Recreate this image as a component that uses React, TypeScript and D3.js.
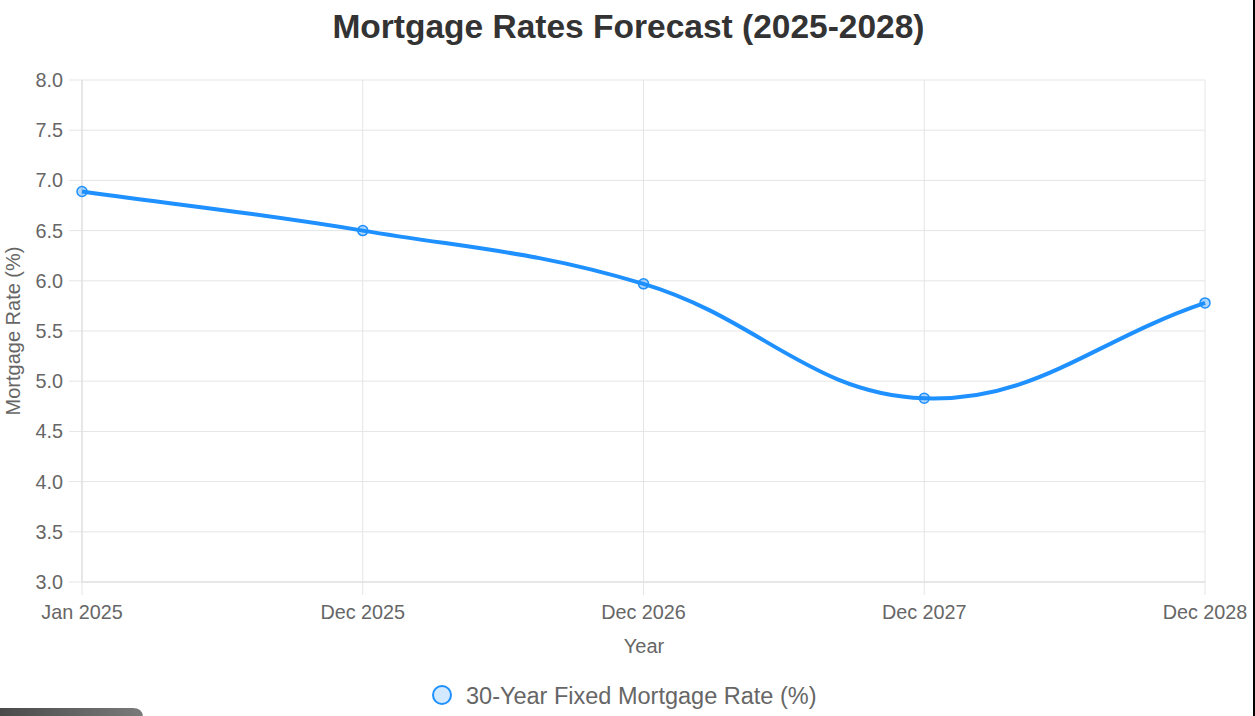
import React from "react";
import * as d3 from "d3";

const categories = ["Jan 2025", "Dec 2025", "Dec 2026", "Dec 2027", "Dec 2028"];
const rates = [6.89, 6.5, 5.97, 4.83, 5.78];
const yTicks = [3.0, 3.5, 4.0, 4.5, 5.0, 5.5, 6.0, 6.5, 7.0, 7.5, 8.0];
const seriesLabel = "30-Year Fixed Mortgage Rate (%)";
const title = "Mortgage Rates Forecast (2025-2028)";

const W = 1255;
const H = 716;
const left = 82;
const right = 1205;
const top = 80;
const bottom = 582;
const BLUE = "#1E90FF";
const FONT = "'Liberation Sans', Arial, Helvetica, sans-serif";

function splinePath(pts: [number, number][], tension: number): string {
  const n = pts.length;
  const cps: { p: [number, number]; c1: [number, number]; c2: [number, number] }[] = [];
  for (let i = 0; i < n; i++) {
    const cur = pts[i];
    const prev = i > 0 ? pts[i - 1] : cur;
    const next = i < n - 1 ? pts[i + 1] : cur;
    const d01 = Math.hypot(cur[0] - prev[0], cur[1] - prev[1]);
    const d12 = Math.hypot(next[0] - cur[0], next[1] - cur[1]);
    let s01 = d01 / (d01 + d12);
    let s12 = d12 / (d01 + d12);
    s01 = isNaN(s01) ? 0 : s01;
    s12 = isNaN(s12) ? 0 : s12;
    const fa = tension * s01;
    const fb = tension * s12;
    cps.push({
      p: cur,
      c1: [cur[0] - fa * (next[0] - prev[0]), cur[1] - fa * (next[1] - prev[1])],
      c2: [cur[0] + fb * (next[0] - prev[0]), cur[1] + fb * (next[1] - prev[1])],
    });
  }
  const path = d3.path();
  path.moveTo(cps[0].p[0], cps[0].p[1]);
  for (let i = 1; i < n; i++) {
    const a = cps[i - 1];
    const b = cps[i];
    path.bezierCurveTo(a.c2[0], a.c2[1], b.c1[0], b.c1[1], b.p[0], b.p[1]);
  }
  return path.toString();
}

export default function App() {
  const x = d3.scalePoint<string>().domain(categories).range([left, right]);
  const y = d3.scaleLinear().domain([3, 8]).range([bottom, top]);
  const pts: [number, number][] = categories.map((c, i) => [x(c)!, y(rates[i])]);
  const d = splinePath(pts, 0.4);

  return (
    <svg
      width={W}
      height={H}
      style={{ position: "absolute", left: 0, top: 0, display: "block", background: "#fff" }}
      fontFamily={FONT}
    >
      <defs>
        <linearGradient id="gbar" x1="0" x2="1" y1="0" y2="0">
          <stop offset="0" stopColor="#4a4a4a" />
          <stop offset="1" stopColor="#7a7a7a" />
        </linearGradient>
      </defs>
      <text x={628.5} y={38} textAnchor="middle" fontSize={33.5} fontWeight="bold" fill="#333">
        {title}
      </text>
      {/* horizontal grid */}
      {yTicks.map((t) => (
        <g key={"y" + t}>
          <line x1={69} x2={right} y1={y(t)} y2={y(t)} stroke="#e5e5e5" strokeWidth={1} />
          <text x={63} y={y(t) + 7} textAnchor="end" fontSize={19.8} fill="#666">
            {t.toFixed(1)}
          </text>
        </g>
      ))}
      {/* vertical grid */}
      {categories.map((c) => (
        <g key={"x" + c}>
          <line x1={x(c)} x2={x(c)} y1={top} y2={595} stroke="#e5e5e5" strokeWidth={1} />
          <text x={x(c)} y={619} textAnchor="middle" fontSize={19.8} fill="#666">
            {c}
          </text>
        </g>
      ))}
      <line x1={left} x2={right} y1={bottom} y2={bottom} stroke="#dcdcdc" strokeWidth={1} />
      <line x1={left} x2={left} y1={top} y2={bottom} stroke="#dcdcdc" strokeWidth={1} />
      <text x={644} y={653} textAnchor="middle" fontSize={20} fill="#666">
        Year
      </text>
      <text
        transform={`translate(19.5, ${(top + bottom) / 2}) rotate(-90)`}
        textAnchor="middle"
        fontSize={20}
        fill="#666"
      >
        Mortgage Rate (%)
      </text>
      <path d={d} fill="none" stroke={BLUE} strokeWidth={4} />
      {pts.map((p, i) => (
        <circle
          key={i}
          cx={p[0]}
          cy={p[1]}
          r={5}
          fill="rgba(30,144,255,0.35)"
          stroke={BLUE}
          strokeWidth={1.5}
        />
      ))}
      {/* legend */}
      <circle cx={442} cy={695} r={9} fill="rgba(30,144,255,0.2)" stroke={BLUE} strokeWidth={2} />
      <text x={466} y={704} fontSize={23.5} fill="#666">
        {seriesLabel}
      </text>
      {/* decorative overlays */}
      <path d="M0,708 L133,708 Q143,708 143,718 L143,716 L0,716 Z" fill="url(#gbar)" />
      <rect x={1253} y={0} width={2} height={H} fill="#000" />
    </svg>
  );
}
